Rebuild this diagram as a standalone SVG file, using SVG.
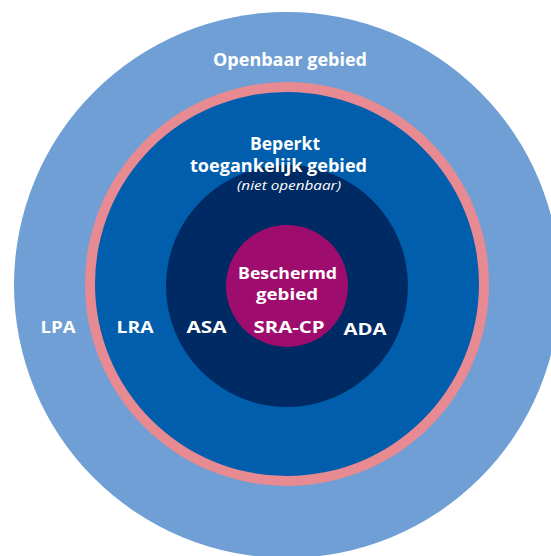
<svg xmlns="http://www.w3.org/2000/svg" width="551" height="556" viewBox="0 0 551 556">
<style>
.t{font-family:"Open Sans","Noto Sans","Liberation Sans",sans-serif;font-weight:700;fill:#ffffff;text-anchor:middle}
.i{font-family:"Open Sans","Noto Sans","Liberation Sans",sans-serif;font-style:italic;fill:#ffffff;text-anchor:middle}
</style>
<rect width="551" height="556" fill="#ffffff"/>
<g id="openbaar">
<circle cx="287" cy="285" r="273" fill="#6f9fd4"/>
</g>
<g id="grens">
<circle cx="287" cy="284" r="202" fill="#e88a92"/>
</g>
<g id="beperkt">
<circle cx="287" cy="284" r="192" fill="#005eac"/>
</g>
<g id="asa">
<circle cx="287" cy="286" r="121" fill="#002a63"/>
</g>
<g id="beschermd">
<circle cx="287" cy="286" r="61" fill="#9e0c6e"/>
</g>
<g id="labels">
<text class="t" x="290" y="66" font-size="17" textLength="154" lengthAdjust="spacingAndGlyphs">Openbaar gebied</text>
<text class="t" x="58" y="333" font-size="16" textLength="35" lengthAdjust="spacingAndGlyphs">LPA</text>
<text class="t" x="285" y="150" font-size="17" textLength="70" lengthAdjust="spacingAndGlyphs">Beperkt</text>
<text class="t" x="278.5" y="172" font-size="17" textLength="177" lengthAdjust="spacingAndGlyphs">toegankelijk gebied</text>
<text class="i" x="289" y="190" font-size="12" textLength="104" lengthAdjust="spacingAndGlyphs">(niet openbaar)</text>
<text class="t" x="135" y="333" font-size="16" textLength="37" lengthAdjust="spacingAndGlyphs">LRA</text>
<text class="t" x="206.5" y="333" font-size="16" textLength="40" lengthAdjust="spacingAndGlyphs">ASA</text>
<text class="t" x="365" y="335" font-size="16" textLength="43" lengthAdjust="spacingAndGlyphs">ADA</text>
<text class="t" x="287.5" y="279" font-size="16" textLength="99" lengthAdjust="spacingAndGlyphs">Beschermd</text>
<text class="t" x="287" y="300" font-size="16" textLength="62" lengthAdjust="spacingAndGlyphs">gebied</text>
<text class="t" x="289" y="333" font-size="16" textLength="71" lengthAdjust="spacingAndGlyphs">SRA-CP</text>
</g>
<g id="connectors"/>
</svg>
